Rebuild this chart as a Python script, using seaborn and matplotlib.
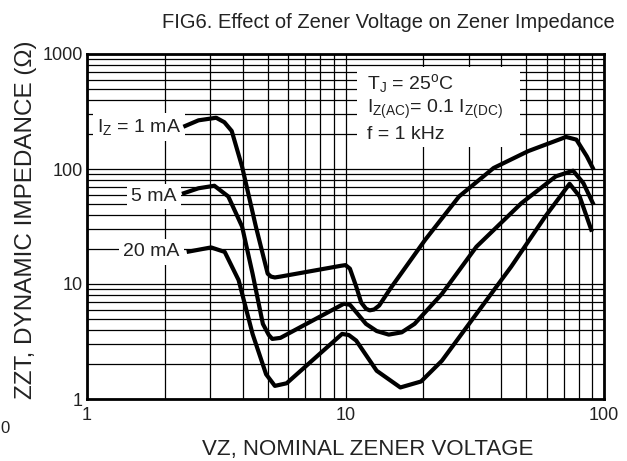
import matplotlib
matplotlib.use("Agg")
import matplotlib.pyplot as plt
import matplotlib.ticker as mticker
import pandas as pd
import seaborn as sns

# ─── Data ─────────────────────────────────────────────────────────────────────
v_1ma = [2.36, 2.7, 3.16, 3.4, 3.63, 3.8, 3.98, 4.5, 5.0, 5.15, 5.33, 5.6,
         9.6, 10.0, 10.4, 11.0, 11.5, 12.0, 12.4, 12.9, 13.5, 14.9, 20.3,
         27.5, 37.4, 50.9, 71.3, 78.2, 85.8, 91.2]
z_1ma = [233, 265, 279, 255, 214, 150, 105, 31.6, 12.3, 11.6, 11.4, 11.6,
         14.4, 14.6, 13.6, 9.5, 6.9, 6.1, 5.9, 6.0, 6.5, 9.1, 24.1,
         57.7, 102, 143, 190, 180, 129, 98.6]

v_5ma = [2.33, 2.7, 3.11, 3.52, 3.98, 4.37, 4.79, 5.05, 5.21, 5.6, 9.85,
         10.4, 11.0, 12.0, 13.2, 14.7, 16.5, 18.5, 23.6, 32.1, 47.9, 65.1,
         75.9, 83.2, 91.2]
z_5ma = [60.8, 68, 71.5, 57.7, 31.6, 12.3, 4.5, 3.6, 3.33, 3.4, 6.73,
         6.6, 5.69, 4.5, 3.9, 3.63, 3.8, 4.5, 8.2, 21.1, 50.4, 86.3,
         96.7, 75.4, 48.8]

v_20ma = [2.43, 3.02, 3.41, 3.86, 4.37, 4.93, 5.33, 5.92, 9.7, 10.3, 11.0,
          13.2, 16.3, 19.6, 23.6, 32.1, 43.7, 59.2, 73.6, 80.5, 89.8]
z_20ma = [19.0, 20.8, 19.0, 10.8, 3.68, 1.64, 1.30, 1.37, 3.68, 3.6, 3.22,
          1.76, 1.26, 1.42, 2.15, 5.5, 14.1, 38.5, 74.4, 57.7, 28.5]

curve_labels = [r"I$_\mathrm{Z}$ = 1 mA", "5 mA", "20 mA"]
x_ticks = [1, 10, 100]
y_ticks = [1, 10, 100, 1000]

# ─── Style ────────────────────────────────────────────────────────────────────
sns.set_theme(style="white")
plt.rcParams["font.family"] = ["Liberation Sans", "DejaVu Sans"]
plt.rcParams["mathtext.fontset"] = "custom"
plt.rcParams["mathtext.rm"] = "Liberation Sans"
plt.rcParams["mathtext.it"] = "Liberation Sans"
TXT = "#222222"

fig = plt.figure(figsize=(6.27, 4.61), dpi=100)
ax = fig.add_axes([87 / 627, 62 / 461, 517 / 627, 345 / 461])

df = pd.concat([
    pd.DataFrame({"v": v_1ma, "z": z_1ma, "iz": "1 mA"}),
    pd.DataFrame({"v": v_5ma, "z": z_5ma, "iz": "5 mA"}),
    pd.DataFrame({"v": v_20ma, "z": z_20ma, "iz": "20 mA"}),
])
for name, grp in df.groupby("iz", sort=False):
    sns.lineplot(data=grp, x="v", y="z", ax=ax, color="black", lw=3,
                 sort=False, estimator=None, zorder=5,
                 solid_joinstyle="round", solid_capstyle="butt")

ax.set_xscale("log")
ax.set_yscale("log")
ax.set_xlim(1, 100)
ax.set_ylim(1, 1000)
ax.xaxis.set_major_locator(mticker.FixedLocator(x_ticks))
ax.yaxis.set_major_locator(mticker.FixedLocator(y_ticks))
ax.xaxis.set_major_formatter(mticker.FixedFormatter([str(t) for t in x_ticks]))
ax.yaxis.set_major_formatter(mticker.FixedFormatter([str(t) for t in y_ticks]))
ax.xaxis.set_minor_locator(mticker.LogLocator(base=10, subs=range(2, 10)))
ax.yaxis.set_minor_locator(mticker.LogLocator(base=10, subs=range(2, 10)))
ax.xaxis.set_minor_formatter(mticker.NullFormatter())
ax.yaxis.set_minor_formatter(mticker.NullFormatter())
ax.tick_params(which="both", length=0, labelsize=13, colors=TXT)
ax.tick_params(axis="x", pad=6)
ax.tick_params(axis="y", pad=3)
ax.grid(which="both", color="black", lw=0.9)
ax.set_axisbelow(True)
for sp in ax.spines.values():
    sp.set_color("black")
    sp.set_linewidth(2)
ax.set_xlabel("")
ax.set_ylabel("")

# curve labels with white boxes that cut the grid
box = dict(facecolor="white", edgecolor="none", pad=3)
ax.text(2.31, 233, curve_labels[0], ha="right", va="center", fontsize=14,
        color=TXT, bbox=box, zorder=4)
ax.text(2.22, 57.6, curve_labels[1], ha="right", va="center", fontsize=14,
        color=TXT, bbox=box, zorder=4)
ax.text(2.28, 19.0, curve_labels[2], ha="right", va="center", fontsize=14,
        color=TXT, bbox=box, zorder=4)

# conditions box
ax.add_patch(plt.Rectangle((0.522, 0.73), 0.3155, 0.232, transform=ax.transAxes,
                           facecolor="white", edgecolor="none", zorder=3))
ax.text(0.542, 0.915, r"T$_\mathrm{J}$ = 25$^\mathrm{o}$C", transform=ax.transAxes,
        ha="left", va="center", fontsize=14, color=TXT, zorder=4)
ax.text(0.542, 0.838, r"I$_\mathrm{Z(AC)}$= 0.1 I$_\mathrm{Z(DC)}$",
        transform=ax.transAxes, ha="left", va="center", fontsize=14,
        color=TXT, zorder=4)
ax.text(0.542, 0.766, "f = 1 kHz", transform=ax.transAxes, ha="left",
        va="center", fontsize=14, color=TXT, zorder=4)

fig.text(615 / 627, 1 - 28 / 461, "FIG6. Effect of Zener Voltage on Zener Impedance",
         ha="right", va="baseline", fontsize=14.5, color=TXT)
fig.text(368 / 627, 1 - 455 / 461, "VZ, NOMINAL ZENER VOLTAGE",
         ha="center", va="baseline", fontsize=16, color=TXT)
fig.text(26 / 627, 1 - 220 / 461, "ZZT, DYNAMIC IMPEDANCE (Ω)", rotation=90,
         ha="center", va="center", fontsize=17.5, color=TXT)
fig.text(0.001, 1 - 428 / 461, "0", ha="left", va="center", fontsize=12,
         color=TXT)

fig.savefig("out.png", dpi=100)
